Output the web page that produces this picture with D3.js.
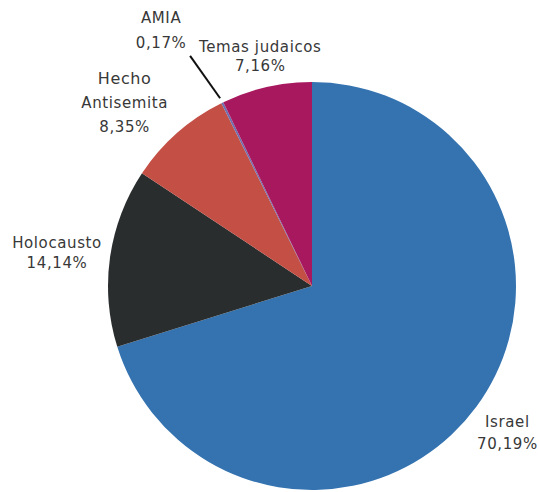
<!DOCTYPE html>
<html>
<head>
<meta charset="utf-8">
<script src="https://cdn.jsdelivr.net/npm/d3@7"></script>
<style>
  html, body { margin: 0; padding: 0; background: #ffffff; }
  svg { display: block; }
  text { font-family: "DejaVu Sans", sans-serif; fill: #383838; }
</style>
</head>
<body>
<svg id="chart" width="539" height="492"></svg>
<script>
// Data (clockwise from 12 o'clock)
const categories = ["Israel", "Holocausto", "Hecho Antisemita", "AMIA", "Temas judaicos"];
const values = [70.19, 14.14, 8.35, 0.17, 7.16];
const valueLabels = ["70,19%", "14,14%", "8,35%", "0,17%", "7,16%"];
const labelLines = [["Israel"], ["Holocausto"], ["Hecho", "Antisemita"], ["AMIA"], ["Temas judaicos"]];
const colors = ["#3473b0", "#2a2d2e", "#c34f45", "#6f6fb0", "#a8185e"];

const W = 539, H = 492;
const cx = 312, cy = 286, R = 204;
const svg = d3.select("#chart");
const g = svg.append("g").attr("transform", `translate(${cx},${cy})`);

const data = categories.map((c, i) => ({ name: c, value: values[i], pct: valueLabels[i], lines: labelLines[i], color: colors[i] }));

const pie = d3.pie().value(d => d.value).sort(null);
const arcs = pie(data);
const arc = d3.arc().innerRadius(0).outerRadius(R);
const labelArc = d3.arc().innerRadius(250).outerRadius(250);

g.selectAll("path.slice")
  .data(arcs)
  .enter().append("path")
  .attr("class", "slice")
  .attr("d", arc)
  .attr("fill", d => d.data.color);

// layout tweaks (not data)
const nudge = {
  "Israel": { dx: -6, dy: -2, lh: 22 },
  "Holocausto": { dx: -7.5, dy: 2, lh: 20 },
  "Hecho Antisemita": { dx: -22, dy: 4, lh: 24 },
  "AMIA": { dx: -41, dy: -31, lh: 25 },
  "Temas judaicos": { dx: 4, dy: 14, lh: 19 }
};

arcs.forEach(a => {
  const [lx, ly] = labelArc.centroid(a);
  const nd = nudge[a.data.name];
  const ax = lx + nd.dx, ay = ly + nd.dy;
  const lines = a.data.lines.concat([a.data.pct]);
  const n = lines.length;
  const t = g.append("text")
    .attr("text-anchor", "middle")
    .attr("font-size", 15)
    .attr("letter-spacing", 0.6);
  lines.forEach((ln, i) => {
    t.append("tspan")
      .attr("x", ax)
      .attr("y", ay + (i - (n - 1) / 2) * nd.lh + 5.5)
      .attr("font-size", (a.data.name === "Hecho Antisemita" && i === 0) ? 16 : 15)
      .text(ln);
  });
  if (a.data.name === "AMIA") {
    const inner = d3.arc().innerRadius(R + 5).outerRadius(R + 5).centroid(a);
    g.append("line")
      .attr("x1", inner[0]).attr("y1", inner[1])
      .attr("x2", ax + 29).attr("y2", ay + 25.5)
      .attr("stroke", "#111").attr("stroke-width", 2);
  }
});
</script>
</body>
</html>
